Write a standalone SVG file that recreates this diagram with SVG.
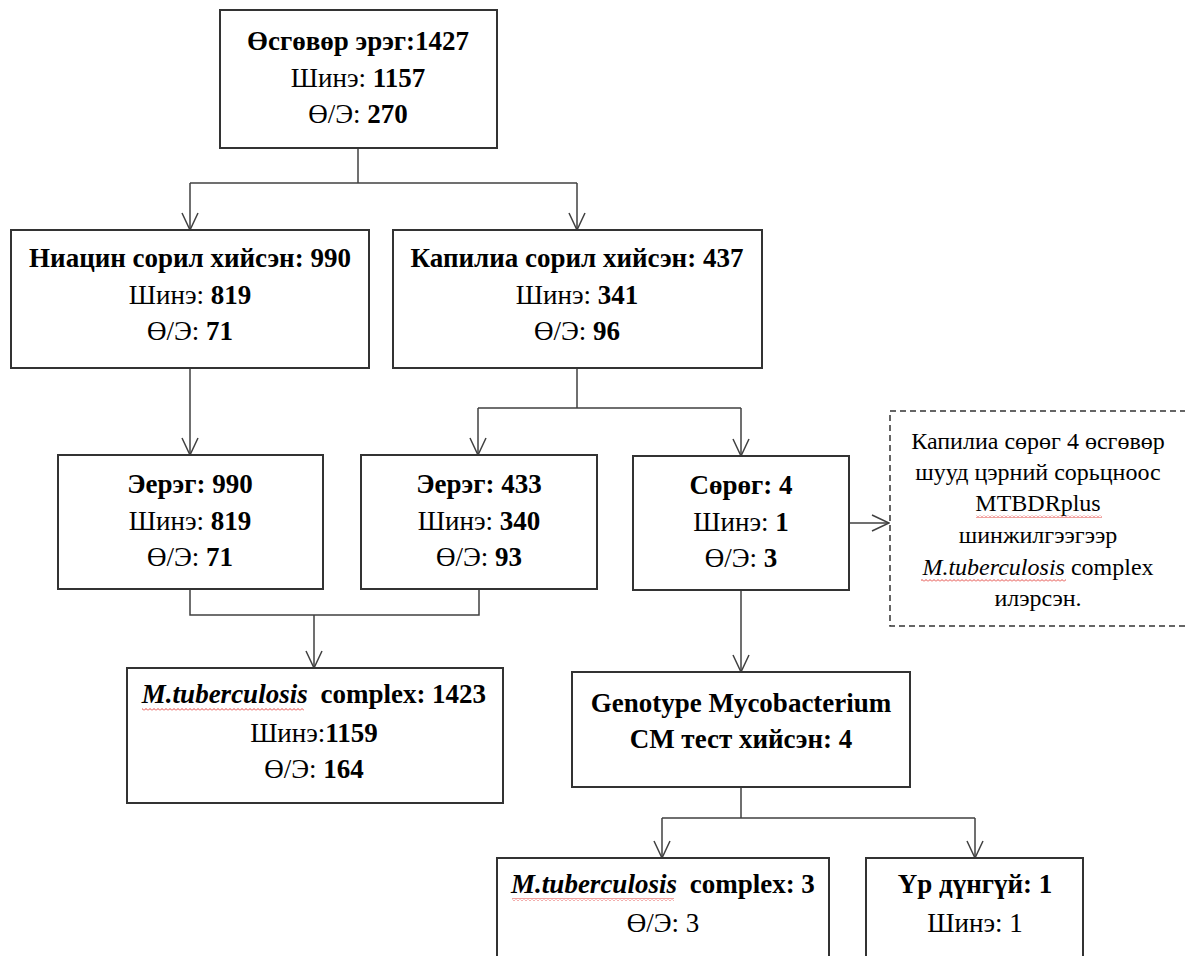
<svg xmlns="http://www.w3.org/2000/svg" width="1185" height="956" viewBox="0 0 1185 956">
<style>
text{font-family:"Liberation Serif","Times New Roman",serif;font-size:27px;fill:#000;text-anchor:middle}
.b{font-weight:bold}
.i{font-style:italic}
.n{font-size:24px}
.box{fill:#fff;stroke:#333;stroke-width:2}
.dash{fill:#fff;stroke:#333;stroke-width:1.5;stroke-dasharray:6,4}
.c{fill:none;stroke:#404040;stroke-width:1.5}
</style>
<defs>
<marker id="arr" markerWidth="20" markerHeight="20" refX="18" refY="9" orient="auto" markerUnits="userSpaceOnUse">
<path d="M1,1 L18,9 L1,17" fill="none" stroke="#404040" stroke-width="1.5"/>
</marker>
<pattern id="wavy" width="4" height="3" patternUnits="userSpaceOnUse">
<path d="M0,2.5 L2,0.5 L4,2.5" fill="none" stroke="#e0302a" stroke-width="0.9"/>
</pattern>
</defs>
<rect width="1185" height="956" fill="#fff"/>

<g id="connectors">
<path class="c" d="M358,148 V183"/>
<path class="c" d="M190,183 H577"/>
<path class="c" d="M190,183 V230" marker-end="url(#arr)"/>
<path class="c" d="M577,183 V230" marker-end="url(#arr)"/>
<path class="c" d="M190,368 V455" marker-end="url(#arr)"/>
<path class="c" d="M577,368 V408 M478,408 H741"/>
<path class="c" d="M478,408 V455" marker-end="url(#arr)"/>
<path class="c" d="M741,408 V456" marker-end="url(#arr)"/>
<path class="c" d="M190,589 V615 H479 V589"/>
<path class="c" d="M314,615 V668" marker-end="url(#arr)"/>
<path class="c" d="M849,523 H889" marker-end="url(#arr)"/>
<path class="c" d="M741,590 V672" marker-end="url(#arr)"/>
<path class="c" d="M741,787 V818 M662,818 H975"/>
<path class="c" d="M662,818 V858" marker-end="url(#arr)"/>
<path class="c" d="M975,818 V858" marker-end="url(#arr)"/>
</g>

<g id="n-top">
<rect class="box" x="220" y="10" width="277" height="138"/>
<text x="358" y="50" class="b">Өсгөвөр эрэг:1427</text>
<text x="358" y="87">Шинэ: <tspan class="b">1157</tspan></text>
<text x="358" y="123">Ө/Э: <tspan class="b">270</tspan></text>
</g>

<g id="n-niacin">
<rect class="box" x="11" y="230" width="358" height="138"/>
<text x="190" y="267" class="b">Ниацин сорил хийсэн: 990</text>
<text x="190" y="304">Шинэ: <tspan class="b">819</tspan></text>
<text x="190" y="340">Ө/Э: <tspan class="b">71</tspan></text>
</g>

<g id="n-kapilia">
<rect class="box" x="393" y="230" width="369" height="138"/>
<text x="577" y="267" class="b">Капилиа сорил хийсэн: 437</text>
<text x="577" y="304">Шинэ: <tspan class="b">341</tspan></text>
<text x="577" y="340">Ө/Э: <tspan class="b">96</tspan></text>
</g>

<g id="n-eerag990">
<rect class="box" x="58" y="455" width="265" height="134"/>
<text x="190" y="493" class="b">Эерэг: 990</text>
<text x="190" y="530">Шинэ: <tspan class="b">819</tspan></text>
<text x="190" y="566">Ө/Э: <tspan class="b">71</tspan></text>
</g>

<g id="n-eerag433">
<rect class="box" x="361" y="455" width="236" height="134"/>
<text x="479" y="493" class="b">Эерэг: 433</text>
<text x="479" y="530">Шинэ: <tspan class="b">340</tspan></text>
<text x="479" y="566">Ө/Э: <tspan class="b">93</tspan></text>
</g>

<g id="n-sorog">
<rect class="box" x="633" y="456" width="216" height="134"/>
<text x="741" y="494" class="b">Сөрөг: 4</text>
<text x="741" y="531">Шинэ: <tspan class="b">1</tspan></text>
<text x="741" y="567">Ө/Э: <tspan class="b">3</tspan></text>
</g>

<g id="n-note">
<rect class="dash" x="890" y="411" width="305" height="215"/>
<text x="1038" y="449" class="n">Капилиа сөрөг 4 өсгөвөр</text>
<text x="1038" y="480" class="n">шууд цэрний сорьцноос</text>
<text x="1038" y="511" class="n">MTBDRplus</text>
<rect x="976" y="515" width="126" height="3" fill="url(#wavy)"/>
<text x="1038" y="543" class="n">шинжилгээгээр</text>
<text x="1038" y="575" class="n"><tspan class="i">M.tuberculosis</tspan> complex</text>
<rect x="921" y="579" width="145" height="3" fill="url(#wavy)"/>
<text x="1038" y="606" class="n">илэрсэн.</text>
</g>

<g id="n-mtb1423">
<rect class="box" x="127" y="668" width="376" height="135"/>
<text x="314" y="703" class="b"><tspan class="i">M.tuberculosis</tspan> <tspan dx="6">complex: 1423</tspan></text>
<rect x="142" y="708" width="162" height="3" fill="url(#wavy)"/>
<text x="314" y="742">Шинэ:<tspan class="b">1159</tspan></text>
<text x="314" y="778">Ө/Э: <tspan class="b">164</tspan></text>
</g>

<g id="n-genotype">
<rect class="box" x="572" y="672" width="338" height="115"/>
<text x="741" y="712" class="b">Genotype Mycobacterium</text>
<text x="741" y="748" class="b">CM тест хийсэн: 4</text>
</g>

<g id="n-mtb3">
<rect class="box" x="497" y="858" width="332" height="110"/>
<text x="663" y="893" class="b"><tspan class="i">M.tuberculosis</tspan> <tspan dx="6">complex: 3</tspan></text>
<rect x="512" y="898" width="162" height="3" fill="url(#wavy)"/>
<text x="663" y="932">Ө/Э: 3</text>
</g>

<g id="n-nores">
<rect class="box" x="866" y="858" width="217" height="110"/>
<text x="975" y="893" class="b">Үр дүнгүй: 1</text>
<text x="975" y="932">Шинэ: 1</text>
</g>
</svg>
